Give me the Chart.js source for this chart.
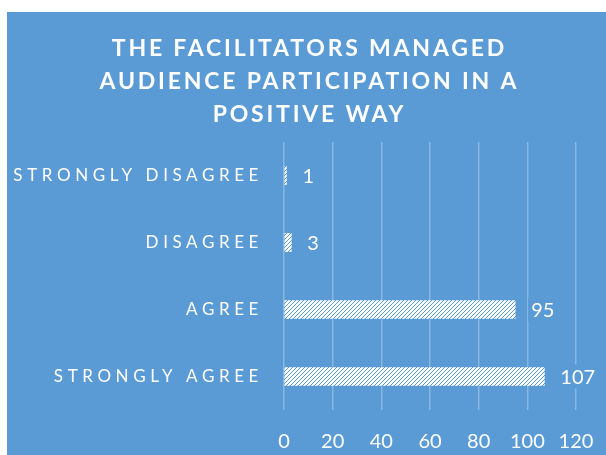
<!DOCTYPE html>
<html>
<head>
<meta charset="utf-8">
<script src="https://cdn.jsdelivr.net/npm/chart.js@4.4.1/dist/chart.umd.min.js"></script>
<style>
    html, body {
        margin: 0;
        padding: 0;
        background: #ffffff;
    }
    canvas {
        display: block;
    }
</style>
</head>
<body>
<canvas id="surveyChart" width="606" height="455"></canvas>
<script>
    // данные опроса
    const titleLines = ['THE FACILITATORS MANAGED', 'AUDIENCE PARTICIPATION IN A', 'POSITIVE WAY'];
    const categories = ['STRONGLY DISAGREE', 'DISAGREE', 'AGREE', 'STRONGLY AGREE'];
    const answers = [1, 3, 95, 107];
    const axisMin = 0;
    const axisMax = 120;
    const axisStep = 20;

    const blue = '#5b9bd5';
    const gridColor = 'rgba(255, 255, 255, 0.28)';

    function makeHatch() {
        const tile = document.createElement('canvas');
        tile.width = 4;
        tile.height = 4;
        const c = tile.getContext('2d');
        c.fillStyle = '#ffffff';
        c.fillRect(0, 0, 4, 4);
        c.fillStyle = blue;
        for (let i = 0; i < 4; i++) {
            c.fillRect(3 - i, i, 1, 1);
        }
        return c.createPattern(tile, 'repeat');
    }

    const backgroundPlugin = {
        id: 'background',
        beforeDraw(chart) {
            const ctx = chart.ctx;
            ctx.save();
            ctx.fillStyle = '#ffffff';
            ctx.fillRect(0, 0, chart.width, chart.height);
            ctx.fillStyle = blue;
            ctx.fillRect(7, 12, chart.width - 7, chart.height - 12);
            ctx.restore();
        }
    };

    const titlePlugin = {
        id: 'spacedTitle',
        afterDraw(chart) {
            const ctx = chart.ctx;
            ctx.save();
            ctx.font = 'bold 23px Lato';
            ctx.letterSpacing = '2.8px';
            ctx.fillStyle = '#ffffff';
            ctx.textAlign = 'center';
            ctx.textBaseline = 'middle';
            titleLines.forEach((line, i) => {
                ctx.fillText(line, 308 + 1.4, 49 + i * 33);
            });
            ctx.restore();
        }
    };

    // подписи категорий с разрядкой
    const categoryLabelsPlugin = {
        id: 'categoryLabels',
        afterDraw(chart) {
            const ctx = chart.ctx;
            const yScale = chart.scales.y;
            ctx.save();
            ctx.font = '17px Lato';
            ctx.letterSpacing = '4.6px';
            ctx.fillStyle = '#ffffff';
            ctx.textAlign = 'right';
            ctx.textBaseline = 'middle';
            categories.forEach((label, i) => {
                ctx.fillText(label, chart.chartArea.left - 21, yScale.getPixelForValue(i));
            });
            ctx.restore();
        }
    };

    // значения справа от столбцов
    const valueLabelsPlugin = {
        id: 'valueLabels',
        afterDatasetsDraw(chart) {
            const ctx = chart.ctx;
            const meta = chart.getDatasetMeta(0);
            ctx.save();
            ctx.font = '20px Lato';
            ctx.textAlign = 'left';
            ctx.textBaseline = 'middle';
            meta.data.forEach((bar, i) => {
                const text = String(answers[i]);
                const w = ctx.measureText(text).width;
                const x = bar.x + 16;
                ctx.fillStyle = blue;
                ctx.fillRect(x - 3, bar.y - 12, w + 6, 24);
                ctx.fillStyle = '#ffffff';
                ctx.fillText(text, x, bar.y + 1);
            });
            ctx.restore();
        }
    };

    const chart = new Chart(document.getElementById('surveyChart'), {
        type: 'bar',
        data: {
            labels: categories,
            datasets: [{
                data: answers,
                backgroundColor: makeHatch(),
                borderWidth: 0,
                barThickness: 18
            }]
        },
        options: {
            indexAxis: 'y',
            responsive: false,
            animation: false,
            devicePixelRatio: 1,
            layout: {
                padding: {top: 142, right: 30, left: 0, bottom: 0}
            },
            plugins: {
                legend: {display: false},
                title: {display: false},
                tooltip: {enabled: false}
            },
            scales: {
                x: {
                    min: axisMin,
                    max: axisMax,
                    border: {display: false},
                    grid: {
                        color: gridColor,
                        lineWidth: 1.5,
                        drawTicks: false
                    },
                    ticks: {
                        stepSize: axisStep,
                        color: '#ffffff',
                        padding: 20,
                        font: {family: 'Lato', size: 20}
                    },
                    afterFit(scale) {
                        scale.height = 45;
                        scale.paddingLeft = 0;
                        scale.paddingRight = 0;
                    }
                },
                y: {
                    border: {display: false},
                    grid: {display: false},
                    ticks: {display: false},
                    afterFit(scale) {
                        scale.width = 284;
                    }
                }
            }
        },
        plugins: [backgroundPlugin, titlePlugin, categoryLabelsPlugin, valueLabelsPlugin]
    });
</script>
</body>
</html>
